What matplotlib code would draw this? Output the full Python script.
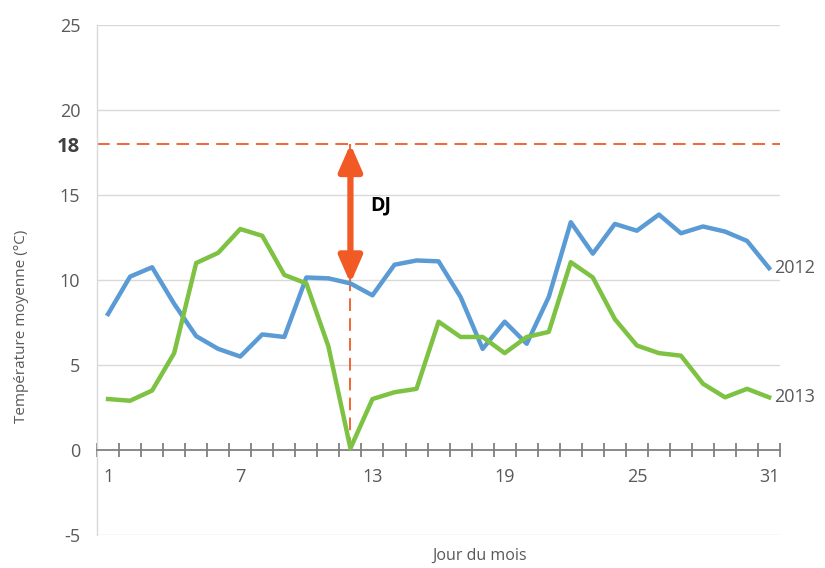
import numpy as np
import matplotlib.pyplot as plt
from matplotlib.ticker import FixedLocator

plt.rcParams['font.family'] = ['Open Sans', 'DejaVu Sans']
plt.rcParams['axes.unicode_minus'] = False

# Données
days = np.arange(1, 32)
t2012 = [8.0, 10.2, 10.75, 8.6, 6.7, 5.95, 5.5, 6.8, 6.65, 10.15, 10.1, 9.8, 9.1,
         10.9, 11.15, 11.1, 9.0, 5.95, 7.55, 6.25, 9.0, 13.4, 11.55, 13.3, 12.9,
         13.85, 12.75, 13.15, 12.85, 12.3, 10.7]
t2013 = [3.0, 2.9, 3.5, 5.7, 11.0, 11.6, 13.0, 12.6, 10.3, 9.8, 6.1, 0.1, 3.0,
         3.4, 3.6, 7.55, 6.65, 6.65, 5.7, 6.65, 6.95, 11.05, 10.15, 7.7, 6.15,
         5.7, 5.55, 3.9, 3.1, 3.6, 3.1]
seuil = 18
jour_dj = 12
xtick_days = [1, 7, 13, 19, 25, 31]
yticks = [-5, 0, 5, 10, 15, 20, 25]

blue = '#5B9BD5'
green = '#7DC242'
orange = '#F15A24'
grey = '#595959'

fig = plt.figure(figsize=(8.25, 5.68), dpi=100)
ax = fig.add_axes([0.1176, 0.058, 0.828, 0.898])

ax.set_xlim(0.5, 31.5)
ax.set_ylim(-5, 25)

# grille horizontale
for y in yticks:
    if y != 0:
        ax.axhline(y, color='#D9D9D9', lw=1, zorder=0)

ax.plot(days, t2012, color=blue, lw=3.2, solid_joinstyle='round', zorder=3)
ax.plot(days, t2013, color=green, lw=3.2, solid_joinstyle='round', zorder=3)

# seuil 18 °C et DJ
ax.axhline(seuil, color=orange, lw=1.3, dashes=(7, 4), zorder=2)
ax.plot([jour_dj, jour_dj], [0, seuil], color=orange, lw=1.3, dashes=(7, 4), zorder=2)
ax.annotate('', xy=(jour_dj, seuil), xytext=(jour_dj, t2012[jour_dj - 1]),
            arrowprops=dict(arrowstyle='<|-|>,head_length=1.6,head_width=0.7',
                            color=orange, lw=4.5, shrinkA=0, shrinkB=0), zorder=4)
ax.text(jour_dj + 0.9, 14.4, 'DJ', fontsize=14, fontweight='bold', color='black',
        va='center', ha='left')

# étiquettes des séries
ax.text(31.25, t2012[-1], '2012', fontsize=13, color=grey, va='center', ha='left')
ax.text(31.25, t2013[-1], '2013', fontsize=13, color=grey, va='center', ha='left')

# axes
for s in ['top', 'right']:
    ax.spines[s].set_visible(False)
ax.spines['bottom'].set_position(('data', 0))
ax.spines['bottom'].set_color('#808080')
ax.spines['bottom'].set_linewidth(1.3)
ax.spines['left'].set_color('#D9D9D9')
ax.spines['left'].set_linewidth(1)

ax.xaxis.set_major_locator(FixedLocator(xtick_days))
ax.xaxis.set_minor_locator(FixedLocator(np.arange(0.5, 32, 1)))
ax.tick_params(axis='x', which='major', length=0, labelsize=13, labelcolor=grey, pad=13)
ax.tick_params(axis='x', which='minor', direction='inout', length=10, width=1.3,
               color='#808080')
ax.set_yticks(yticks)
ax.tick_params(axis='y', length=0, labelsize=13, labelcolor=grey, pad=12)
ax.set_yticks([seuil], ['18'], minor=True)
ax.tick_params(axis='y', which='minor', length=0, labelsize=14.5, labelcolor='#404040',
               pad=12)
for lbl in ax.get_yticklabels(minor=True):
    lbl.set_fontweight('bold')

ax.set_xlabel('Jour du mois', fontsize=11.5, color=grey)
ax.xaxis.set_label_coords(0.56, -0.025)
ax.set_ylabel('Température moyenne (°C)', fontsize=11, color=grey)
ax.yaxis.set_label_coords(-0.1, 0.41)

fig.savefig('out.png', dpi=100)
